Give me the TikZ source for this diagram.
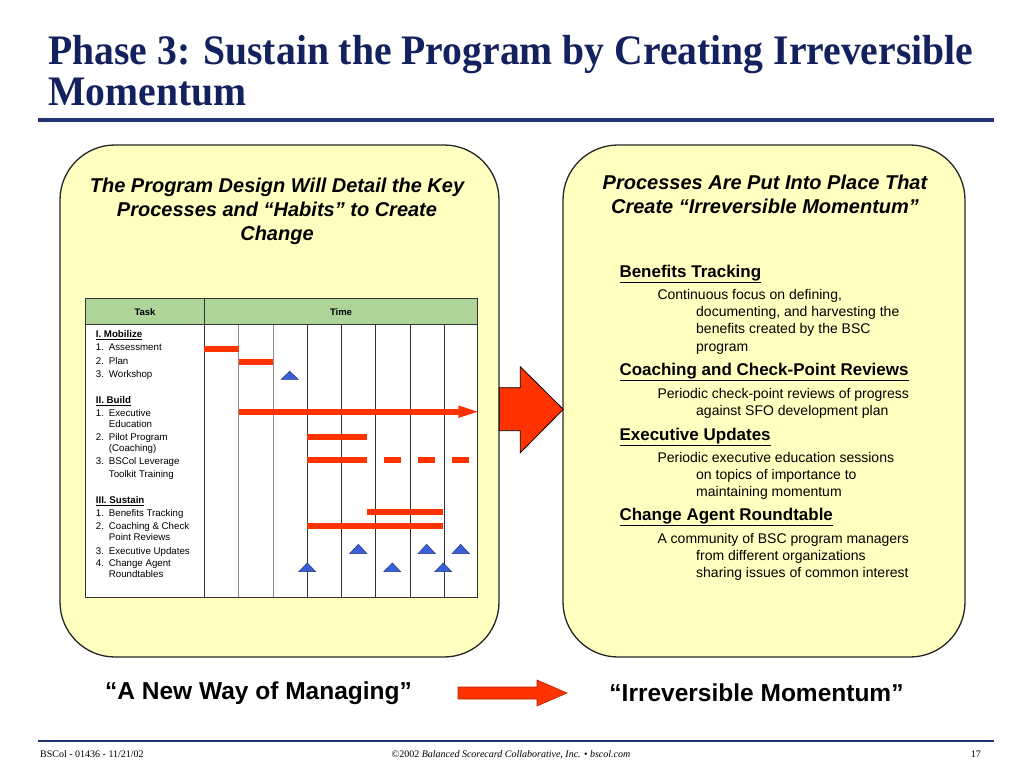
\documentclass[tikz,border=0pt]{standalone}
\usepackage{fontspec}
\setmainfont{Liberation Serif}
\setsansfont{Liberation Sans}
\newfontfamily\titlefont[FakeStretch=0.944]{Liberation Serif}
\newfontfamily\footfont{Liberation Serif}
\definecolor{boxfill}{HTML}{FFFFC0}
\definecolor{arrred}{HTML}{FF3300}
\definecolor{navy}{HTML}{13215E}
\definecolor{rulenavy}{HTML}{1F336F}
\definecolor{hdrgreen}{HTML}{AED49A}
\definecolor{triblue}{HTML}{3A5FD9}
\begin{document}
\begin{tikzpicture}[x=1pt,y=-1pt,
  panel/.style={draw=black!85, line width=1.3pt, fill=boxfill, rounded corners=55pt, inner sep=0pt},
  bar/.style={draw=arrred, line width=6pt},
  tri/.style={fill=triblue, draw=triblue!55!black, line width=0.5pt},
  gtxt/.style={font=\fontsize{9.7}{10.5}\selectfont\sffamily, anchor=base west, inner sep=0pt},
  ghead/.style={font=\fontsize{9.5}{10}\selectfont\sffamily\bfseries, anchor=base, inner sep=0pt},
  ptitle/.style={font=\fontsize{20}{23.8}\selectfont\sffamily\bfseries\itshape, align=center, anchor=base, inner sep=0pt},
  rhead/.style={font=\fontsize{17}{19}\selectfont\sffamily\bfseries, anchor=base west, inner sep=0pt},
  rdesc/.style={font=\fontsize{14}{17.2}\selectfont\sffamily, align=left, anchor=base west, inner sep=0pt},
  quote/.style={font=\fontsize{24.5}{26}\selectfont\sffamily\bfseries, inner sep=0pt},
  foot/.style={font=\fontsize{10}{11}\footfont, anchor=base, inner sep=0pt},
  bigarrow/.style={fill=arrred, draw=black, line width=0.8pt}]
\useasboundingbox (0,0) rectangle (1024,768);
\fill[white] (0,0) rectangle (1024,768);

% Title
\node[anchor=base west, inner sep=0pt, font=\fontsize{42}{44}\titlefont\bfseries, text=navy] (title1) at (48,64) {Phase 3: Sustain the Program by Creating Irreversible};
\node[anchor=base west, inner sep=0pt, font=\fontsize{42}{44}\titlefont\bfseries, text=navy] (title2) at (48,105) {Momentum};
\draw[rulenavy, line width=3.5pt] (38,120) -- (994,120);

% Panels
\node[panel, minimum width=439pt, minimum height=512pt] (leftbox) at (279.5,401) {};
\node[panel, minimum width=402pt, minimum height=512pt] (rightbox) at (764,401) {};

% Big arrow between panels
\draw[bigarrow] (499.3,387.7) -- (520.3,387.7) -- (520.3,366.7) -- (563.3,409.3) -- (520.3,452.7) -- (520.3,430.7) -- (499.3,430.7) -- cycle;

% Left panel title (anchor = baseline of last line)
\node[ptitle] (ltitle) at (277,240) {The Program Design Will Detail the Key\\Processes and “Habits” to Create\\Change};

% Gantt table
\fill[white] (85,324.3) rectangle (477.7,597.3);
\fill[hdrgreen] (85,298.3) rectangle (477.7,324.3);
\foreach \xx in {238.7,273}{\draw[black!45, line width=0.9pt] (\xx,324.3) -- (\xx,597.3);}
\foreach \xx in {307.3,341.5,375.7,409.9,444}{\draw[black!80, line width=0.8pt] (\xx,324.3) -- (\xx,597.3);}
\draw[black!80, line width=0.9pt] (204.3,298.3) -- (204.3,597.3);
\draw[black!80, line width=0.9pt] (85,324.3) -- (477.7,324.3);
\draw[black!80, line width=1pt] (85,298.3) rectangle (477.7,597.3);
\node[ghead] (htask) at (145,315) {Task};
\node[ghead] (htime) at (341,315) {Time};

% Task texts
\node[gtxt] (s1) at (95.7,337.3) {\textbf{\underline{I. Mobilize}}};
\node[gtxt] (t11) at (95.7,350.7) {1.};
\node[gtxt] at (108.7,350.7) {Assessment};
\node[gtxt] (t12) at (95.7,364) {2.};
\node[gtxt] at (108.7,364) {Plan};
\node[gtxt] (t13) at (95.7,377.3) {3.};
\node[gtxt] at (108.7,377.3) {Workshop};
\node[gtxt] (s2) at (95.7,403.3) {\textbf{\underline{II. Build}}};
\node[gtxt] (t21) at (95.7,416.3) {1.};
\node[gtxt] at (108.7,416.3) {Executive};
\node[gtxt] at (108.7,427) {Education};
\node[gtxt] (t22) at (95.7,440.7) {2.};
\node[gtxt] at (108.7,440.7) {Pilot Program};
\node[gtxt] at (108.7,451.3) {(Coaching)};
\node[gtxt] (t23) at (95.7,464) {3.};
\node[gtxt] at (108.7,464) {BSCol Leverage};
\node[gtxt] at (108.7,477.3) {Toolkit Training};
\node[gtxt] (s3) at (95.7,503.7) {\textbf{\underline{III. Sustain}}};
\node[gtxt] (t31) at (95.7,516.7) {1.};
\node[gtxt] at (108.7,516.7) {Benefits Tracking};
\node[gtxt] (t32) at (95.7,529.7) {2.};
\node[gtxt] at (108.7,529.7) {Coaching \& Check};
\node[gtxt] at (108.7,540.3) {Point Reviews};
\node[gtxt] (t33) at (95.7,554) {3.};
\node[gtxt] at (108.7,554) {Executive Updates};
\node[gtxt] (t34) at (95.7,566.7) {4.};
\node[gtxt] at (108.7,566.7) {Change Agent};
\node[gtxt] at (108.7,577.3) {Roundtables};

% Bars
\draw[bar] (204.3,349.3) -- (238.7,349.3);
\draw[bar] (238.7,362.3) -- (273,362.3);
\draw[bar] (238.7,411.7) -- (459,411.7);
\fill[arrred] (458.3,405.4) -- (477.7,411.7) -- (458.3,418) -- cycle;
\draw[bar] (307.3,436.7) -- (366.7,436.7);
\draw[bar] (307.3,459.7) -- (366.7,459.7);
\draw[bar] (384,459.7) -- (401,459.7);
\draw[bar] (418,459.7) -- (435,459.7);
\draw[bar] (452,459.7) -- (469,459.7);
\draw[bar] (366.7,512) -- (443.3,512);
\draw[bar] (307.3,525.7) -- (443.3,525.7);

% Milestone triangles
\foreach \cx/\ap/\bs in {289.7/371.3/379.3, 358.3/544.3/553.5, 426.7/544.3/553.5, 460.7/544.3/553.5, 307.3/563/571.7, 392.3/563/571.7, 443.3/563/571.7}{
  \draw[tri] (\cx-8.5,\bs) -- (\cx,\ap) -- (\cx+8.5,\bs) -- cycle;
}

% Right panel title (anchor = baseline of last line)
\node[ptitle] (rtitle) at (765,213) {Processes Are Put Into Place That\\Create “Irreversible Momentum”};

% Right panel items (desc anchors = baseline of last line)
\node[rhead] (h1) at (619.3,277) {\underline{Benefits Tracking}};
\node[rdesc] (d1) at (657.3,351.1) {Continuous focus on defining,\\\hspace*{38.7pt}documenting, and harvesting the\\\hspace*{38.7pt}benefits created by the BSC\\\hspace*{38.7pt}program};
\node[rhead] (h2) at (619.3,375.5) {\underline{Coaching and Check-Point Reviews}};
\node[rdesc] (d2) at (657.3,415.2) {Periodic check-point reviews of progress\\\hspace*{38.7pt}against SFO development plan};
\node[rhead] (h3) at (619.3,440.5) {\underline{Executive Updates}};
\node[rdesc] (d3) at (657.3,496.4) {Periodic executive education sessions\\\hspace*{38.7pt}on topics of importance to\\\hspace*{38.7pt}maintaining momentum};
\node[rhead] (h4) at (619.3,520.5) {\underline{Change Agent Roundtable}};
\node[rdesc] (d4) at (657.3,577.4) {A community of BSC program managers\\\hspace*{38.7pt}from different organizations\\\hspace*{38.7pt}sharing issues of common interest};

% Bottom quotes and arrow
\node[quote] (qleft) at (258.5,693) {“A New Way of Managing”};
\node[quote] (qright) at (756.5,693) {“Irreversible Momentum”};
\draw[fill=arrred, draw=arrred!70!black, line width=0.6pt] (458,687) -- (537,687) -- (537,680) -- (567,693) -- (537,706) -- (537,699) -- (458,699) -- cycle;

% Footer
\draw[rulenavy, line width=2pt] (38,740.7) -- (994,740.7);
\node[foot, anchor=base west] (fl) at (40,757.5) {BSCol - 01436 - 11/21/02};
\node[foot] (fc) at (511,757.5) {©2002 \textit{Balanced Scorecard Collaborative, Inc.} • \textit{bscol.com}};
\node[foot, anchor=base east] (fr) at (981,757.5) {17};
\end{tikzpicture}
\end{document}
